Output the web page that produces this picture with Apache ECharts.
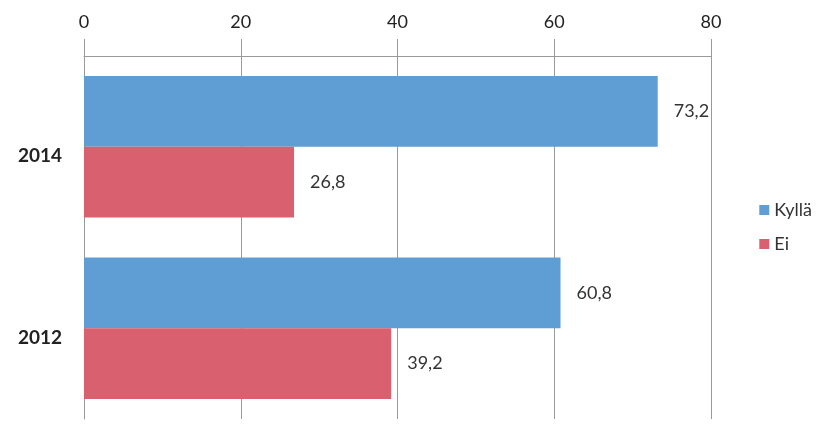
<!DOCTYPE html>
<html>
<head>
<meta charset="utf-8">
<script src="https://cdn.jsdelivr.net/npm/echarts@6/dist/echarts.min.js"></script>
<style>
html,body{margin:0;padding:0;background:#fff;}
#c{width:829px;height:427px;}
</style>
</head>
<body>
<div id="c"></div>
<script>
const categories = ['2014', '2012'];
const seriesNames = ['Kyllä', 'Ei'];
const kyllaValues = [73.2, 60.8];
const eiValues = [26.8, 39.2];
const tickMax = 80;
const tickInterval = 20;

const font = 'Lato, "Open Sans", sans-serif';
const chart = echarts.init(document.getElementById('c'));
const fmt = p => String(p.value).replace('.', ',');
chart.setOption({
  animation: false,
  backgroundColor: '#fff',
  grid: { left: 84, right: 118, top: 56, bottom: 8, containLabel: false },
  legend: {
    orient: 'vertical', right: 12, top: 196,
    itemWidth: 10, itemHeight: 10, itemGap: 16,
    icon: 'rect',
    textStyle: { fontFamily: font, fontSize: 18, color: '#333' },
    data: seriesNames
  },
  xAxis: {
    type: 'value', position: 'top', min: 0, max: tickMax, interval: tickInterval,
    axisLine: { show: true, lineStyle: { color: '#999', width: 1 } },
    axisTick: { show: true, length: 17, lineStyle: { color: '#999' } },
    axisLabel: { fontFamily: font, fontSize: 18, color: '#222', margin: 25 },
    splitLine: { show: true, lineStyle: { color: '#999', width: 1 } }
  },
  yAxis: {
    type: 'category', data: categories, inverse: true,
    axisLine: { show: true, lineStyle: { color: '#999' } },
    axisTick: { show: false },
    axisLabel: { fontFamily: font, fontSize: 19, fontWeight: 'bold', color: '#222', margin: 22,
      verticalAlign: 'top' }
  },
  series: [
    {
      name: seriesNames[0], type: 'bar', data: kyllaValues,
      barGap: '0%', barCategoryGap: '22%',
      itemStyle: { color: '#5f9dd5' },
      label: { show: true, position: 'right', distance: 16, formatter: fmt,
        fontFamily: font, fontSize: 18, color: '#333' }
    },
    {
      name: seriesNames[1], type: 'bar', data: eiValues,
      barGap: '0%', barCategoryGap: '22%',
      itemStyle: { color: '#d9606e' },
      label: { show: true, position: 'right', distance: 16, formatter: fmt,
        fontFamily: font, fontSize: 18, color: '#333' }
    }
  ]
});
</script>
</body>
</html>
